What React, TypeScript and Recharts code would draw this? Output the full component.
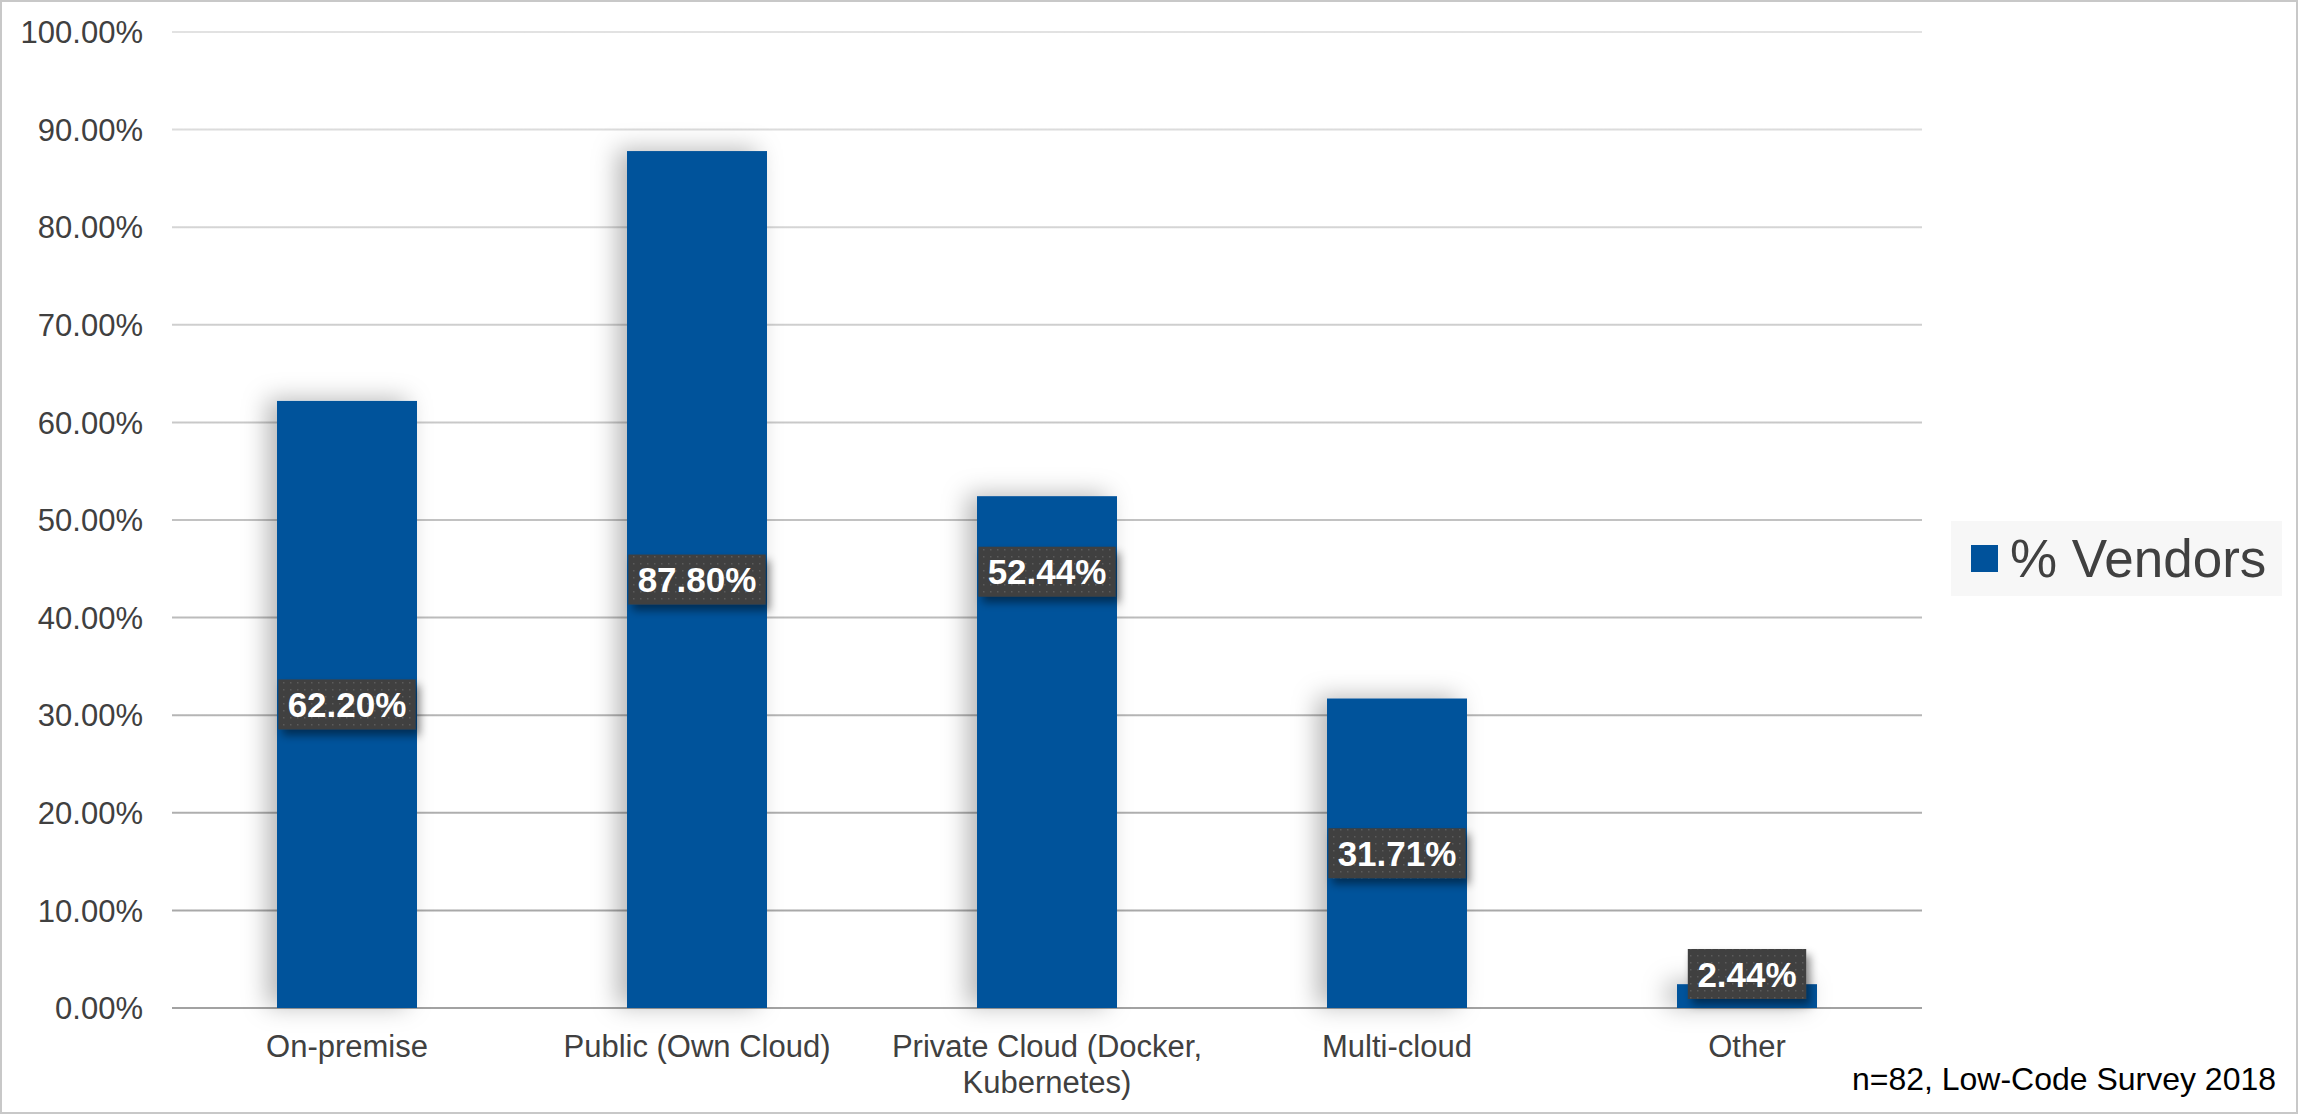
import React from 'react';
import { BarChart, Bar, XAxis, YAxis, CartesianGrid, Legend, LabelList } from 'recharts';

const categories = [
  'On-premise',
  'Public (Own Cloud)',
  'Private Cloud (Docker, Kubernetes)',
  'Multi-cloud',
  'Other',
];
const vendorShare = [62.2, 87.8, 52.44, 31.71, 2.44];
// data-label centre, in % units, where the label was moved off the bar centre (null = centred)
const labelAnchor: (number | null)[] = [null, null, 44.7, null, null];
const yTicks = [0, 10, 20, 30, 40, 50, 60, 70, 80, 90, 100];
const seriesName = '% Vendors';
const footnote = 'n=82, Low-Code Survey 2018';

const data = categories.map((c, i) => ({
  category: c,
  value: vendorShare[i],
  anchor: labelAnchor[i],
}));

const W = 2298;
const H = 1114;
const BAR = '#00529B';
const FONT = '"Liberation Sans", Arial, Helvetica, sans-serif';
const TXT = '#404040';

const fmt = (v: number) => v.toFixed(2) + '%';

const boldWidths: Record<string, number> = { '.': 0.278, '%': 0.889 };
const textEm = (s: string) =>
  s.split('').reduce((a, ch) => a + (boldWidths[ch] ?? 0.556), 0);

const YTick = (props: any) => {
  const { x, y, payload } = props;
  return (
    <text x={x - 29} y={y} dy="0.36em" textAnchor="end" fill={TXT} fontSize={31} fontFamily={FONT}>
      {fmt(payload.value)}
    </text>
  );
};

const wrap = (s: string, max: number) => {
  const words = s.split(' ');
  const lines: string[] = [];
  let cur = '';
  words.forEach((w) => {
    const t = cur ? cur + ' ' + w : w;
    if (t.length > max && cur) {
      lines.push(cur);
      cur = w;
    } else cur = t;
  });
  if (cur) lines.push(cur);
  return lines;
};

const XTick = (props: any) => {
  const { x, y, payload } = props;
  const lines = wrap(String(payload.value), 24);
  return (
    <text x={x} y={y} textAnchor="middle" fill={TXT} fontSize={31} fontFamily={FONT}>
      {lines.map((l, i) => (
        <tspan key={i} x={x} y={y + 49 + i * 36}>
          {l}
        </tspan>
      ))}
    </text>
  );
};

const BarShape = (props: any) => {
  const { x, y, width, height } = props;
  return <rect x={x} y={y} width={width} height={height} fill={BAR} filter="url(#barShadow)" />;
};

const ValueLabel = (props: any) => {
  const { x, y, width, height, value, index } = props;
  const label = fmt(Number(value));
  const fs = 35;
  const bw = textEm(label) * 34 + 22;
  const bh = 50;
  const cx = x + width / 2;
  const bottom = y + height;
  const anchor = labelAnchor[index];
  let cy = y + height / 2;
  if (anchor != null && Number(value) > 0) cy = bottom - anchor * (height / Number(value));
  if (cy + bh / 2 > bottom - 9) cy = bottom - 9 - bh / 2;
  return (
    <g>
      <rect
        x={cx - bw / 2}
        y={cy - bh / 2}
        width={bw}
        height={bh}
        fill="url(#dotPattern)"
        filter="url(#labelShadow)"
      />
      <text
        x={cx}
        y={cy}
        dy="0.36em"
        textAnchor="middle"
        fill="#ffffff"
        fontWeight="bold"
        fontSize={fs}
        fontFamily={FONT}
      >
        {label}
      </text>
    </g>
  );
};

const LegendContent = () => (
  <div
    style={{
      width: 331,
      height: 75,
      background: '#f7f7f7',
      display: 'flex',
      alignItems: 'center',
      boxSizing: 'border-box',
      paddingLeft: 20,
      fontFamily: FONT,
    }}
  >
    <div style={{ width: 27, height: 27, background: BAR, marginRight: 12 }} />
    <span style={{ fontSize: 53, color: TXT, lineHeight: 1, whiteSpace: 'nowrap' }}>{seriesName}</span>
  </div>
);

export default function App() {
  return (
    <div style={{ position: 'absolute', left: 0, top: 0, width: W, height: H, background: '#ffffff' }}>
      <BarChart
        width={W}
        height={H}
        data={data}
        margin={{ top: 32, right: 376, bottom: 0, left: 0 }}
        barCategoryGap="30%"
      >
        <defs>
          <linearGradient id="gridGrad" gradientUnits="userSpaceOnUse" x1="0" y1="32" x2="0" y2="1008">
            <stop offset="0" stopColor="#e2e2e2" />
            <stop offset="1" stopColor="#a2a2a2" />
          </linearGradient>
          <filter id="barShadow" filterUnits="userSpaceOnUse" x="0" y="0" width={W} height={H}>
            <feDropShadow dx="-10" dy="-2" stdDeviation="12" floodColor="#000" floodOpacity="0.28" />
          </filter>
          <filter id="labelShadow" x="-20%" y="-30%" width="150%" height="180%">
            <feDropShadow dx="4" dy="6" stdDeviation="4" floodColor="#000" floodOpacity="0.45" />
          </filter>
          <pattern id="dotPattern" width="7" height="7" patternUnits="userSpaceOnUse">
            <rect width="7" height="7" fill="#3f3f3f" />
            <rect x="3" y="3" width="1.5" height="1.5" fill="#5c5c5c" />
          </pattern>
        </defs>
        <CartesianGrid vertical={false} stroke="url(#gridGrad)" strokeWidth={2} />
        <XAxis
          dataKey="category"
          height={106}
          tickLine={false}
          axisLine={false}
          tickSize={0}
          tickMargin={0}
          interval={0}
          tick={<XTick />}
        />
        <YAxis
          width={172}
          domain={[0, 100]}
          ticks={yTicks}
          tickLine={false}
          axisLine={false}
          tickSize={0}
          tickMargin={0}
          interval={0}
          tick={<YTick />}
        />
        <Legend
          align="center"
          verticalAlign="middle"
          content={<LegendContent />}
          wrapperStyle={{ left: 1951, top: 521, width: 331, height: 75 }}
        />
        <Bar dataKey="value" name={seriesName} fill={BAR} shape={<BarShape />} isAnimationActive={false}>
          <LabelList dataKey="value" content={<ValueLabel />} />
        </Bar>
      </BarChart>
      <svg
        width={W}
        height={H}
        style={{ position: 'absolute', left: 0, top: 0, pointerEvents: 'none' }}
      >
        <rect x={1} y={1} width={W - 2} height={H - 2} fill="none" stroke="#c8c8c8" strokeWidth={2} />
        <text
          x={1852}
          y={1090}
          fontSize={32}
          fill="#000000"
          fontFamily={FONT}
          textLength={424}
          lengthAdjust="spacingAndGlyphs"
        >
          {footnote}
        </text>
      </svg>
    </div>
  );
}
